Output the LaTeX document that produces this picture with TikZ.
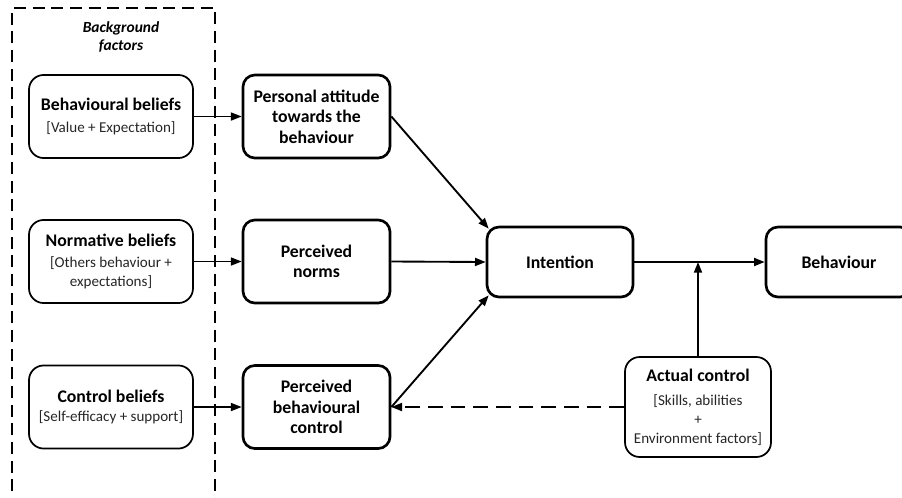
\documentclass[tikz,border=0pt]{standalone}
\usepackage{fontspec}
\setmainfont{Carlito}
\usetikzlibrary{arrows.meta,calc}

\newcommand{\hd}{\fontsize{13.3}{15.5}\selectfont\bfseries\color{black}}
\newcommand{\sm}{\fontsize{11.3}{14}\selectfont}

\tikzset{every picture/.style={line width=0.75pt}}
\tikzset{
  beliefbox/.style={draw, rounded corners=11pt, line width=1.3pt, align=center, font=\sm, text=black!85, inner sep=1pt, minimum width=123pt, minimum height=62.3pt},
  mainbox/.style={draw, rounded corners=9pt, line width=2pt, align=center, font=\hd, inner sep=1pt},
  link/.style={-{Triangle[length=8pt,width=6pt]}, line width=1.1pt},
}

\begin{document}
\begin{tikzpicture}[x=0.75pt,y=0.75pt,yscale=-1,xscale=1]
\useasboundingbox (0,0) rectangle (902,497);

%Dashed Rect
\draw [dash pattern=on 9pt off 5pt, line width=0.9pt] (12,510) -- (12,8) -- (215,8) -- (215,510) ;
% Text Node
\node [font=\fontsize{11.6}{14}\selectfont\bfseries\itshape, align=center] (bgf) at (121,37) {Background\\factors};

%Rounded Rect
\node [beliefbox] (bb) at (111,116.5) {{\hd Behavioural beliefs}\\[1.8pt][Value + Expectation]};
%Rounded Rect
\node [beliefbox] (nb) at (111,261.5) {{\hd Normative beliefs}\\[1.8pt][Others behaviour +\\expectations]};
%Rounded Rect
\node [beliefbox] (cb) at (111,407) {{\hd Control beliefs}\\[0.8pt][Self-efficacy + support]};

%Rounded Rect
\node [mainbox, minimum width=110.3pt, minimum height=62.3pt] (pa) at (316.5,116.5) {Personal attitude\\towards the\\behaviour};
%Rounded Rect
\node [mainbox, minimum width=110.3pt, minimum height=62.3pt] (pn) at (316.5,261.5) {Perceived\\norms};
%Rounded Rect
\node [mainbox, minimum width=110.3pt, minimum height=62.3pt] (pbc) at (316.5,407) {Perceived\\behavioural\\control};

%Rounded Rect
\node [mainbox, minimum width=109.5pt, minimum height=52.5pt] (int) at (560,262) {Intention};
%Rounded Rect
\node [mainbox, minimum width=109.5pt, minimum height=52.5pt] (beh) at (839,262) {Behaviour};
%Rounded Rect
\node [beliefbox, minimum width=109.5pt, minimum height=75pt] (ac) at (698,407) {{\hd Actual control}\\[4.5pt][Skills, abilities\\+\\Environment factors]};

%Straight Lines
\draw [link] (bb.east) -- (pa.west) ;
\draw [link] (nb.east) -- (pn.west) ;
\draw [link] (cb.east) -- (pbc.west) ;
%Straight Lines
\draw [link, line width=1.4pt] (pa.east) -- ($(int.north west)+(3,3)$) ;
\draw [link, line width=1.4pt] (pn.east) -- (int.west) ;
\draw [link, line width=1.4pt] (pbc.east) -- ($(int.south west)+(3,-3)$) ;
\draw [link, line width=1.4pt] (int.east) -- (beh.west) ;
\draw [link, line width=1.4pt] (ac.north) -- (ac.north |- int.east) ;
%Dashed Line
\draw [link, line width=1.4pt, dash pattern=on 11pt off 6pt] (ac.west) -- (pbc.east) ;

\end{tikzpicture}
\end{document}
